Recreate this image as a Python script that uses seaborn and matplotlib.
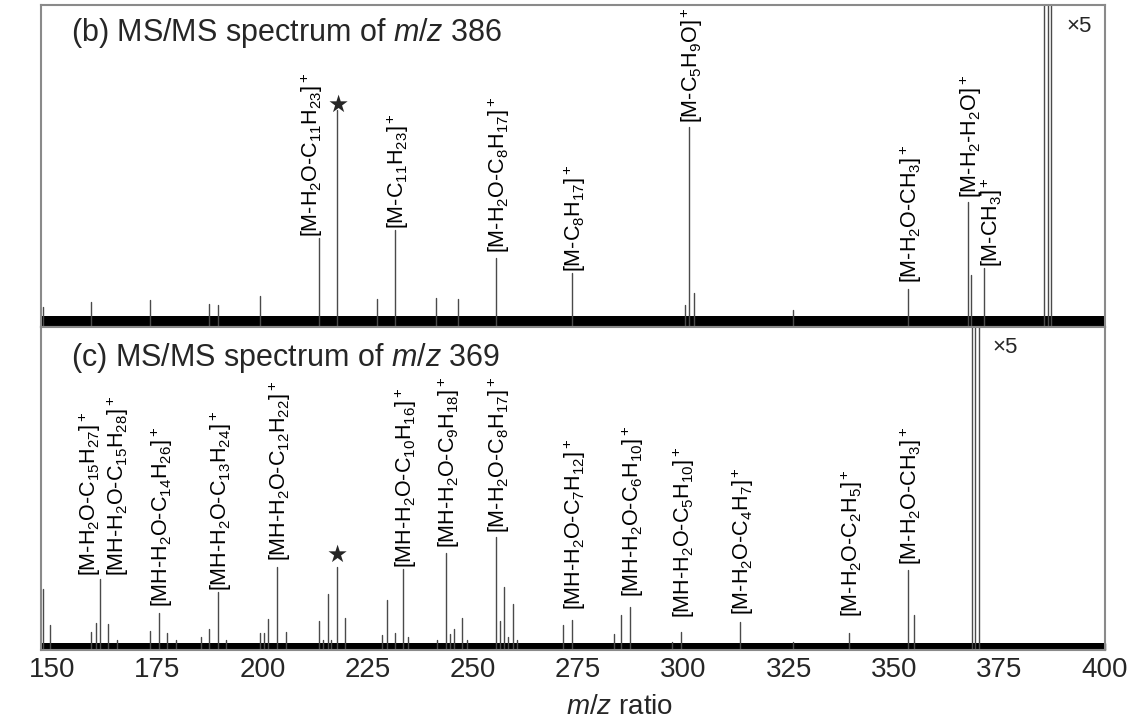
import numpy as np
import pandas as pd
import matplotlib
matplotlib.use('Agg')
import matplotlib.pyplot as plt
import seaborn as sns

# peak lists (m/z, relative height; 100 = top of panel)
top_mz = [148.0, 159.4, 173.3, 187.3, 189.4, 199.4, 213.4, 217.6, 227.3, 231.5,
          241.3, 246.5, 255.5, 273.5, 300.4, 301.3, 302.5, 326.0, 353.3, 367.5,
          368.4, 371.4, 385.6, 386.5, 387.3]
top_int = [6.2, 7.9, 8.4, 7.0, 6.8, 9.6, 27.6, 67.4, 8.7, 30.1,
           9.0, 8.7, 21.4, 16.8, 6.8, 62.1, 10.5, 5.3, 11.8, 38.8,
           16.1, 18.3, 110, 110, 110]

bot_mz = [147.8, 149.5, 159.4, 160.4, 161.4, 163.4, 165.4, 173.3, 175.4, 177.4,
          179.5, 185.5, 187.4, 189.4, 191.4, 199.4, 200.4, 201.4, 203.5, 205.5,
          213.4, 214.3, 215.5, 216.4, 217.6, 219.5, 228.5, 229.5, 231.5, 233.4,
          234.6, 241.4, 243.5, 244.5, 245.5, 247.5, 248.5, 255.5, 256.4, 257.4,
          258.4, 259.4, 260.4, 271.3, 273.5, 283.5, 285.2, 287.3, 297.3, 299.3,
          313.4, 326.0, 339.2, 353.3, 354.7, 368.5, 369.3, 370.2]
bot_int = [18.9, 7.7, 5.6, 8.4, 22.0, 8.0, 3.0, 6.0, 11.4, 5.2,
           3.0, 4.0, 6.4, 18.0, 3.0, 5.2, 5.2, 9.5, 25.8, 5.7,
           9.1, 3.0, 17.2, 3.0, 25.8, 9.8, 4.6, 15.5, 5.3, 25.0,
           4.0, 3.0, 30.0, 5.0, 6.4, 9.8, 3.0, 35.0, 9.1, 19.6,
           4.0, 14.4, 3.0, 7.7, 9.3, 5.0, 10.8, 13.4, 2.6, 5.7,
           8.8, 2.6, 5.2, 24.8, 10.8, 110, 110, 110]

top_noise = 3.5
bot_noise = 2.2

top_labels = [r'[M-H$_2$O-C$_{11}$H$_{23}$]$^+$', r'[M-C$_{11}$H$_{23}$]$^+$',
              r'[M-H$_2$O-C$_8$H$_{17}$]$^+$', r'[M-C$_8$H$_{17}$]$^+$',
              r'[M-C$_5$H$_9$O]$^+$', r'[M-H$_2$O-CH$_3$]$^+$',
              r'[M-H$_2$-H$_2$O]$^+$', r'[M-CH$_3$]$^+$']
top_label_mz = [213.4, 231.5, 255.5, 273.5, 301.3, 353.3, 367.5, 371.4]

bot_labels = [r'[M-H$_2$O-C$_{15}$H$_{27}$]$^+$', r'[MH-H$_2$O-C$_{15}$H$_{28}$]$^+$',
              r'[MH-H$_2$O-C$_{14}$H$_{26}$]$^+$', r'[MH-H$_2$O-C$_{13}$H$_{24}$]$^+$',
              r'[MH-H$_2$O-C$_{12}$H$_{22}$]$^+$', r'[MH-H$_2$O-C$_{10}$H$_{16}$]$^+$',
              r'[MH-H$_2$O-C$_9$H$_{18}$]$^+$', r'[M-H$_2$O-C$_8$H$_{17}$]$^+$',
              r'[MH-H$_2$O-C$_7$H$_{12}$]$^+$', r'[MH-H$_2$O-C$_6$H$_{10}$]$^+$',
              r'[MH-H$_2$O-C$_5$H$_{10}$]$^+$', r'[M-H$_2$O-C$_4$H$_7$]$^+$',
              r'[M-H$_2$O-C$_2$H$_5$]$^+$', r'[M-H$_2$O-CH$_3$]$^+$']
bot_label_mz = [161.4, 161.4, 175.4, 189.4, 203.5, 233.4, 243.5, 255.5,
                273.5, 287.3, 299.3, 313.4, 339.2, 353.3]

star_mz = 217.6
x_ticks = [150, 175, 200, 225, 250, 275, 300, 325, 350, 375, 400]

# label offsets in pixels (dx, gap above peak) -- layout only
top_offsets = [(-7, 1), (3, 1), (3, 5), (3, 1), (3, 4), (3, 6), (3, 4), (8, 1)]
bot_offsets = [(-10, 3), (18, 3), (3, 6), (3, 1), (3, 6), (3, 1), (3, 5), (3, 4),
               (3, 10), (3, 10), (3, 14), (3, 7), (3, 16), (3, 5)]

sns.set_theme(style='white')
plt.rcParams['font.family'] = ['Liberation Sans', 'DejaVu Sans']
plt.rcParams['mathtext.fontset'] = 'custom'
plt.rcParams['mathtext.rm'] = 'Liberation Sans'
plt.rcParams['mathtext.it'] = 'Liberation Sans:italic'
plt.rcParams['mathtext.bf'] = 'Liberation Sans:bold'

fig = plt.figure(figsize=(11.35, 7.22), dpi=100)
ax_top = fig.add_axes([0.0361, 0.5471, 0.9374, 0.446])
ax_bot = fig.add_axes([0.0361, 0.0997, 0.9374, 0.4474])

xlim = (147.4, 400.1)
PX = 0.72  # points per pixel


def stems(ax, mz, inten, noise):
    n = len(mz)
    df = pd.DataFrame({
        'mz': np.repeat(mz, 2),
        'I': np.column_stack([np.zeros(n), inten]).ravel(),
        'peak': np.repeat(np.arange(n), 2),
    })
    sns.lineplot(data=df, x='mz', y='I', units='peak', estimator=None,
                 color='#4a4a4a', lw=1.0, ax=ax, sort=False, legend=False)
    ax.fill_between(xlim, 0, noise, color='black', lw=0)


def label_peaks(ax, labels, lab_mz, mz, inten, offsets):
    for txt, m, (dx, gap) in zip(labels, lab_mz, offsets):
        h = inten[int(np.argmin(np.abs(np.array(mz) - m)))]
        ax.annotate(txt, (m, h), xytext=(dx * PX, gap * PX), textcoords='offset points',
                    rotation=90, ha='center', va='bottom', fontsize=15.5, color='black')


stems(ax_top, top_mz, top_int, top_noise)
stems(ax_bot, bot_mz, bot_int, bot_noise)
label_peaks(ax_top, top_labels, top_label_mz, top_mz, top_int, top_offsets)
label_peaks(ax_bot, bot_labels, bot_label_mz, bot_mz, bot_int, bot_offsets)

# stars
h_top = top_int[top_mz.index(star_mz)]
h_bot = bot_int[bot_mz.index(star_mz)]
ax_top.annotate('★', (star_mz, h_top), xytext=(1 * PX, 5 * PX), textcoords='offset points',
                ha='center', va='center', fontsize=17, family='DejaVu Sans')
ax_bot.annotate('★', (star_mz, h_bot), xytext=(0, 12 * PX), textcoords='offset points',
                ha='center', va='center', fontsize=17, family='DejaVu Sans')

ax_top.text(0.0282, 0.913, r'(b) MS/MS spectrum of $\mathit{m/z}$ 386', transform=ax_top.transAxes,
            ha='left', va='center', fontsize=22)
ax_bot.text(0.0282, 0.904, r'(c) MS/MS spectrum of $\mathit{m/z}$ 369', transform=ax_bot.transAxes,
            ha='left', va='center', fontsize=22)
ax_top.text(0.9756, 0.932, '×5', transform=ax_top.transAxes, ha='center', va='center', fontsize=16)
ax_bot.text(0.906, 0.938, '×5', transform=ax_bot.transAxes, ha='center', va='center', fontsize=16)

for ax in (ax_top, ax_bot):
    ax.set_xlim(xlim)
    ax.set_ylim(0, 100)
    ax.set_yticks([])
    ax.set_ylabel('')
    ax.set_xlabel('')
    for s in ax.spines.values():
        s.set_color('#8a8a8a')
        s.set_linewidth(1.5)

ax_top.set_xticks([])
ax_bot.set_xticks(x_ticks)
ax_bot.set_xticks(np.arange(150, 401, 5), minor=True)
ax_bot.tick_params(axis='x', which='major', direction='in', length=5, width=1,
                   labelsize=20, pad=5, bottom=True)
ax_bot.tick_params(axis='x', which='minor', direction='in', length=3, width=0.8, bottom=True)
ax_bot.set_xlabel(r'$\mathit{m/z}$ ratio', fontsize=20)
ax_bot.xaxis.set_label_coords(0.544, -0.176)
ax_bot.xaxis.label.set_va('center')

fig.savefig('out.png', dpi=100)
